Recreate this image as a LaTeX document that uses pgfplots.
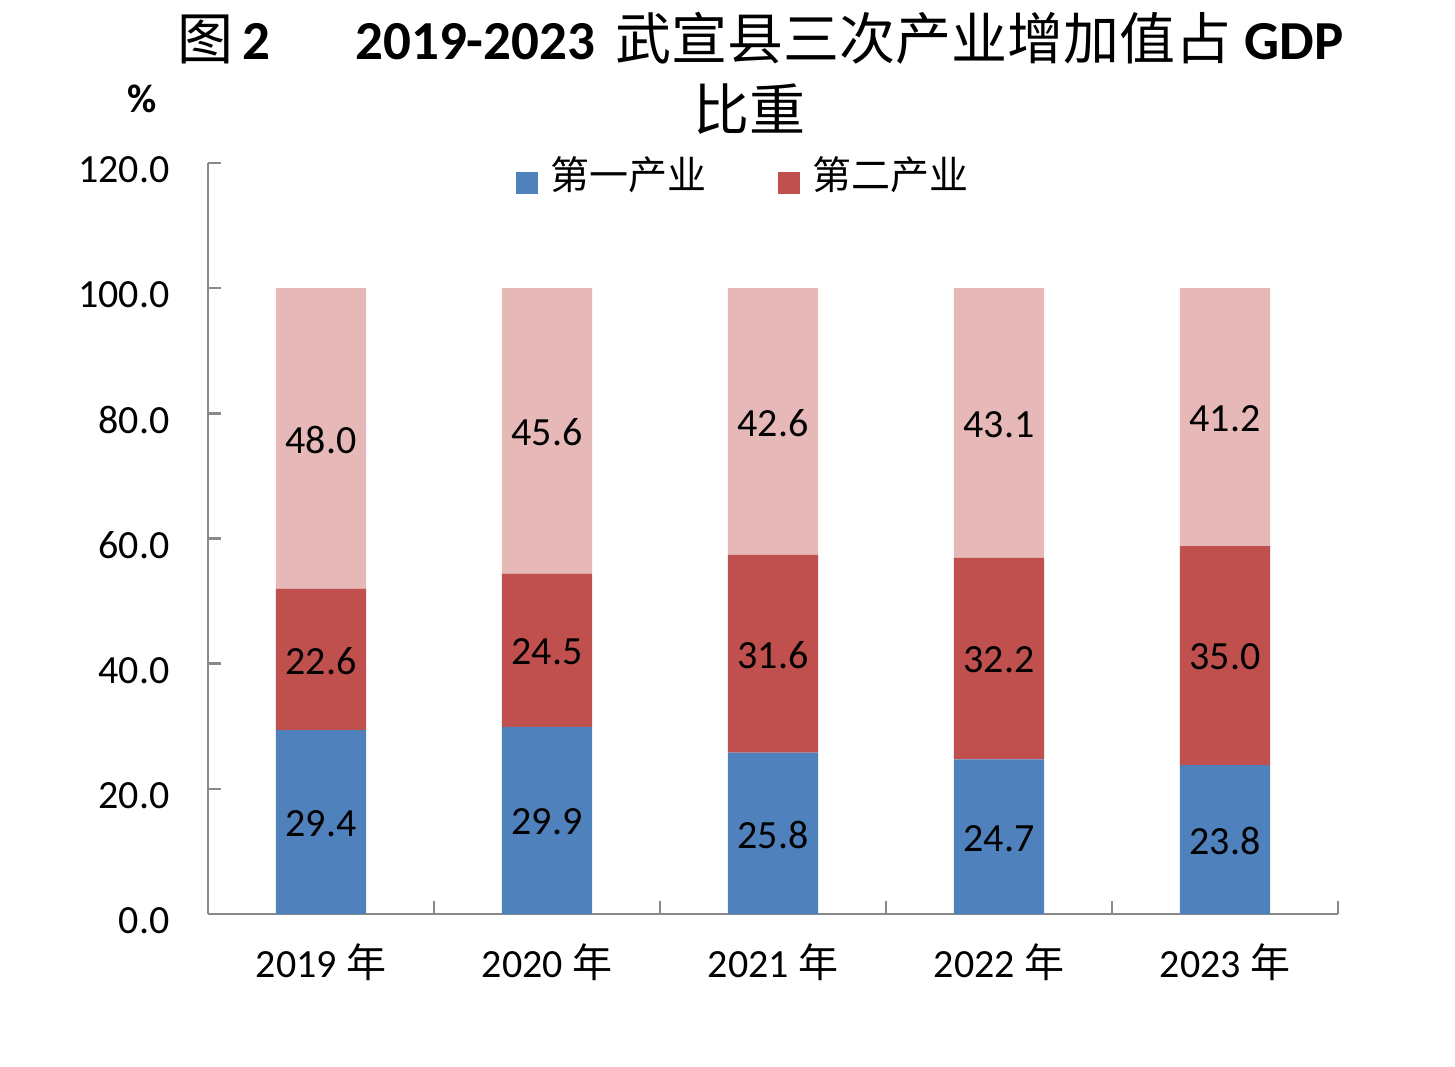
\documentclass[border=0pt]{standalone}
\usepackage{fontspec}
\setmainfont{Carlito}
\newfontfamily\cjk{Noto Sans CJK SC}
\usepackage{pgfplots}
\pgfplotsset{compat=1.18}
\usepackage{pgfplotstable}
\definecolor{c1}{HTML}{4F81BD}
\definecolor{c2}{HTML}{C0504D}
\definecolor{c3}{HTML}{E6B9B8}
\definecolor{axg}{HTML}{898989}
\pgfplotstableread{
x a b c
0 29.4 22.6 48.0
1 29.9 24.5 45.6
2 25.8 31.6 42.6
3 24.7 32.2 43.1
4 23.8 35.0 41.2
}\data
\pgfplotsset{
  sqleg/.style={legend image code/.code={\fill[##1] (0pt,-9.5pt) rectangle (11pt,1.5pt); \path (17.5pt,0pt);}},
  lab/.style={nodes near coords={\pgfmathprintnumber[fixed,fixed zerofill,precision=1]{\pgfplotspointmeta}},
    point meta=explicit,
    every node near coord/.style={anchor=center, inner sep=0pt, text=black,
      font=\fontsize{20pt}{24pt}\selectfont, yshift=-0.75pt}},
}
\begin{document}
\begin{tikzpicture}
\path[use as bounding box] (0,0) rectangle (727.5pt,533pt);
\begin{axis}[
  at={(104pt,76pt)}, anchor=south west,
  scale only axis, width=565pt, height=375.5pt,
  ybar stacked, bar width=0.4,
  xmin=-0.5, xmax=4.5, ymin=0, ymax=120,
  enlargelimits=false,
  axis lines=left,
  axis line style={-, draw=axg, line width=1.2pt},
  tick align=inside,
  major tick length=6.5pt,
  tick style={draw=axg, line width=1.2pt},
  xtick={-0.5,0.5,1.5,2.5,3.5,4.5},
  x tick label as interval,
  xticklabels={2019 {\cjk 年},2020 {\cjk 年},2021 {\cjk 年},2022 {\cjk 年},2023 {\cjk 年}},
  xticklabel style={anchor=base, inner sep=0pt, yshift=-31.5pt, font=\fontsize{20pt}{24pt}\selectfont},
  ytick={0,20,40,60,80,100,120},
  yticklabel={\pgfmathprintnumber[fixed,fixed zerofill,precision=1]{\tick}},
  yticklabel style={anchor=base east, inner sep=0pt, xshift=-19pt, yshift=-9.85pt, font=\fontsize{20pt}{24pt}\selectfont},
  /pgf/number format/assume math mode=true,
  legend columns=2,
  legend style={at={(0.473,0.9834)}, anchor=center, draw=none, fill=none, inner sep=0pt,
    nodes={inner sep=0pt, anchor=west},
    font=\cjk\fontsize{19.5pt}{23pt}\selectfont,
    /tikz/every even column/.append style={column sep=35.5pt}},
]
\addplot[fill=c1, draw=none, sqleg, lab] table[x=x, y=a, meta=a] {\data};
\addplot[fill=c2, draw=none, sqleg, lab] table[x=x, y=b, meta=b] {\data};
\addplot[fill=c3, draw=none, sqleg, lab] table[x=x, y=c, meta=c] {\data};
\legend{第一产业,第二产业}
\end{axis}
\node[anchor=base west, inner sep=0pt, font=\cjk\fontsize{28pt}{33pt}\selectfont] at (88.5pt,503pt) {图};
\node[anchor=base west, inner sep=0pt, font=\bfseries\fontsize{27.5pt}{33pt}\selectfont] at (121pt,503pt) {2};
\node[anchor=base west, inner sep=0pt, font=\bfseries\fontsize{27.5pt}{33pt}\selectfont] at (177.5pt,503pt) {2019-2023};
\node[anchor=base west, inner sep=0pt, font=\cjk\fontsize{28pt}{33pt}\selectfont] at (307.5pt,503pt) {武宣县三次产业增加值占};
\node[anchor=base west, inner sep=0pt, font=\bfseries\fontsize{27.5pt}{33pt}\selectfont] at (622pt,503pt) {GDP};
\node[anchor=base west, inner sep=0pt, font=\cjk\fontsize{28pt}{33pt}\selectfont] at (346.5pt,467.5pt) {比重};
\node[anchor=center, inner sep=0pt, font=\bfseries\fontsize{20pt}{24pt}\selectfont] at (71pt,483.5pt) {\%};
\end{tikzpicture}
\end{document}
